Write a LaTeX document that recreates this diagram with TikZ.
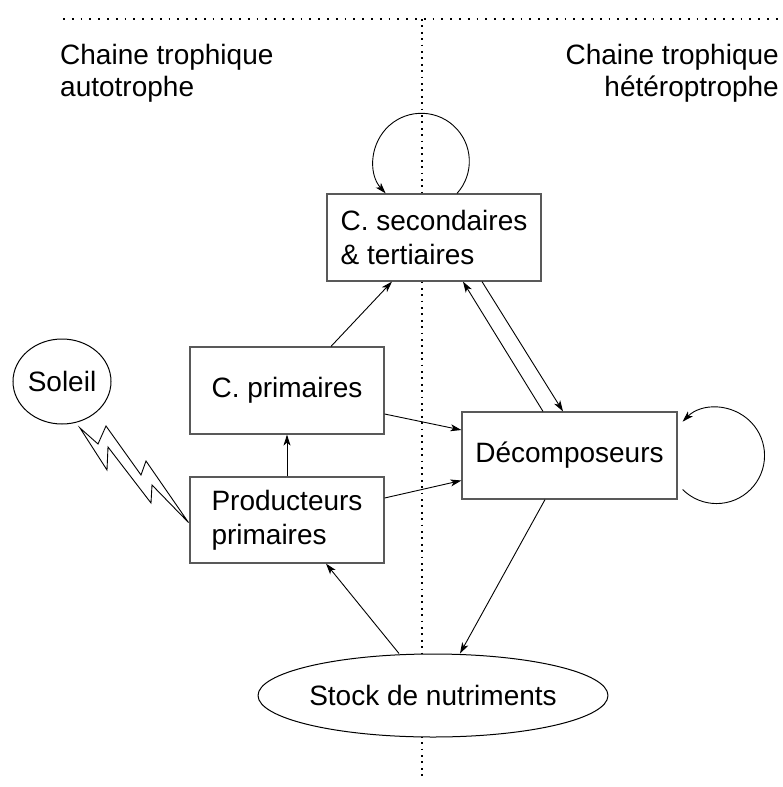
\documentclass[tikz,border=0pt]{standalone}
\usepackage{fontspec}
\setmainfont{Liberation Sans}
\usetikzlibrary{arrows.meta,shapes.geometric}

\begin{document}
\begin{tikzpicture}
        [x=1pt, y=-1pt, font=\fontsize{28}{34}\selectfont,
        box/.style={rectangle, draw=black!65, line width=1.2pt, fill=white, align=left, inner sep=0pt},
        blob/.style={ellipse, draw, line width=1pt, fill=white, inner sep=0pt},
        heading/.style={inner sep=0pt, font=\fontsize{28}{32}\selectfont},
        flow/.style={-{Stealth[length=11pt,width=7pt,inset=3pt]}, line width=0.9pt},
        divider/.style={line width=1.8pt, dash pattern=on 1.8pt off 7pt}]

        \useasboundingbox (0,0) rectangle (782,787);

        % dotted separators
        \draw[divider] (63,19) -- (782,19);
        \draw[divider, dash pattern=on 1.8pt off 4.6pt] (422,19) -- (422,780);

        \node[heading, anchor=north west, align=left] (auto) at (60,44) {Chaine trophique\\autotrophe};
        \node[heading, anchor=north east, align=right] (hetero) at (779,44) {Chaine trophique\\hétéroptrophe};

        \node[box, minimum width=214pt, minimum height=87pt] (sec) at (434,237.5) {C. secondaires\\\& tertiaires};
        \node[box, minimum width=194pt, minimum height=87pt] (prim) at (287,390.5) {C. primaires};
        \node[box, minimum width=194pt, minimum height=86pt] (prod) at (287,520) {Producteurs\\primaires};
        \node[box, minimum width=215pt, minimum height=87pt] (dec) at (569.5,455.5) {Décomposeurs};
        \node[blob, minimum width=98pt, minimum height=85pt] (sun) at (62,381.5) {Soleil};
        \node[blob, minimum width=312pt, minimum height=83pt] (stock) at (433,695.5) {Stock de nutriments};

        % lightning
        \draw[line width=0.9pt, fill=white] (80,428) -- (98,444) -- (106,426) -- (141,475) -- (146,461)
            -- (188.5,522.5) -- (152,485) -- (151,503) -- (108,447) -- (107,470) -- cycle;

        % flows
        \draw[flow] ([xshift=44pt]prim.north) -- ([xshift=-42pt]sec.south);
        \draw[flow] (prod) -- (prim);
        \draw[flow] ([yshift=-23.5pt]prim.east) -- ([yshift=25.5pt]dec.west);
        \draw[flow] ([yshift=22pt]prod.east) -- ([yshift=-25pt]dec.west);
        \draw[flow] ([xshift=-26.5pt]dec.north) -- ([xshift=29pt]sec.south);
        \draw[flow] ([xshift=48pt]sec.south) -- ([xshift=-6.5pt]dec.north);
        \draw[flow] ([xshift=-24.5pt]dec.south) -- ([xshift=27pt]stock.north);
        \draw[flow] ([xshift=-34pt]stock.north) -- ([xshift=39pt]prod.south);

        % loops
        \draw[flow] ([xshift=23pt]sec.north) arc[start angle=-42, end angle=222, radius=48pt];
        \draw[flow] ([xshift=5pt,yshift=-34pt]dec.east) arc[start angle=-135, end angle=135, radius=48pt];

    \end{tikzpicture}
\end{document}
